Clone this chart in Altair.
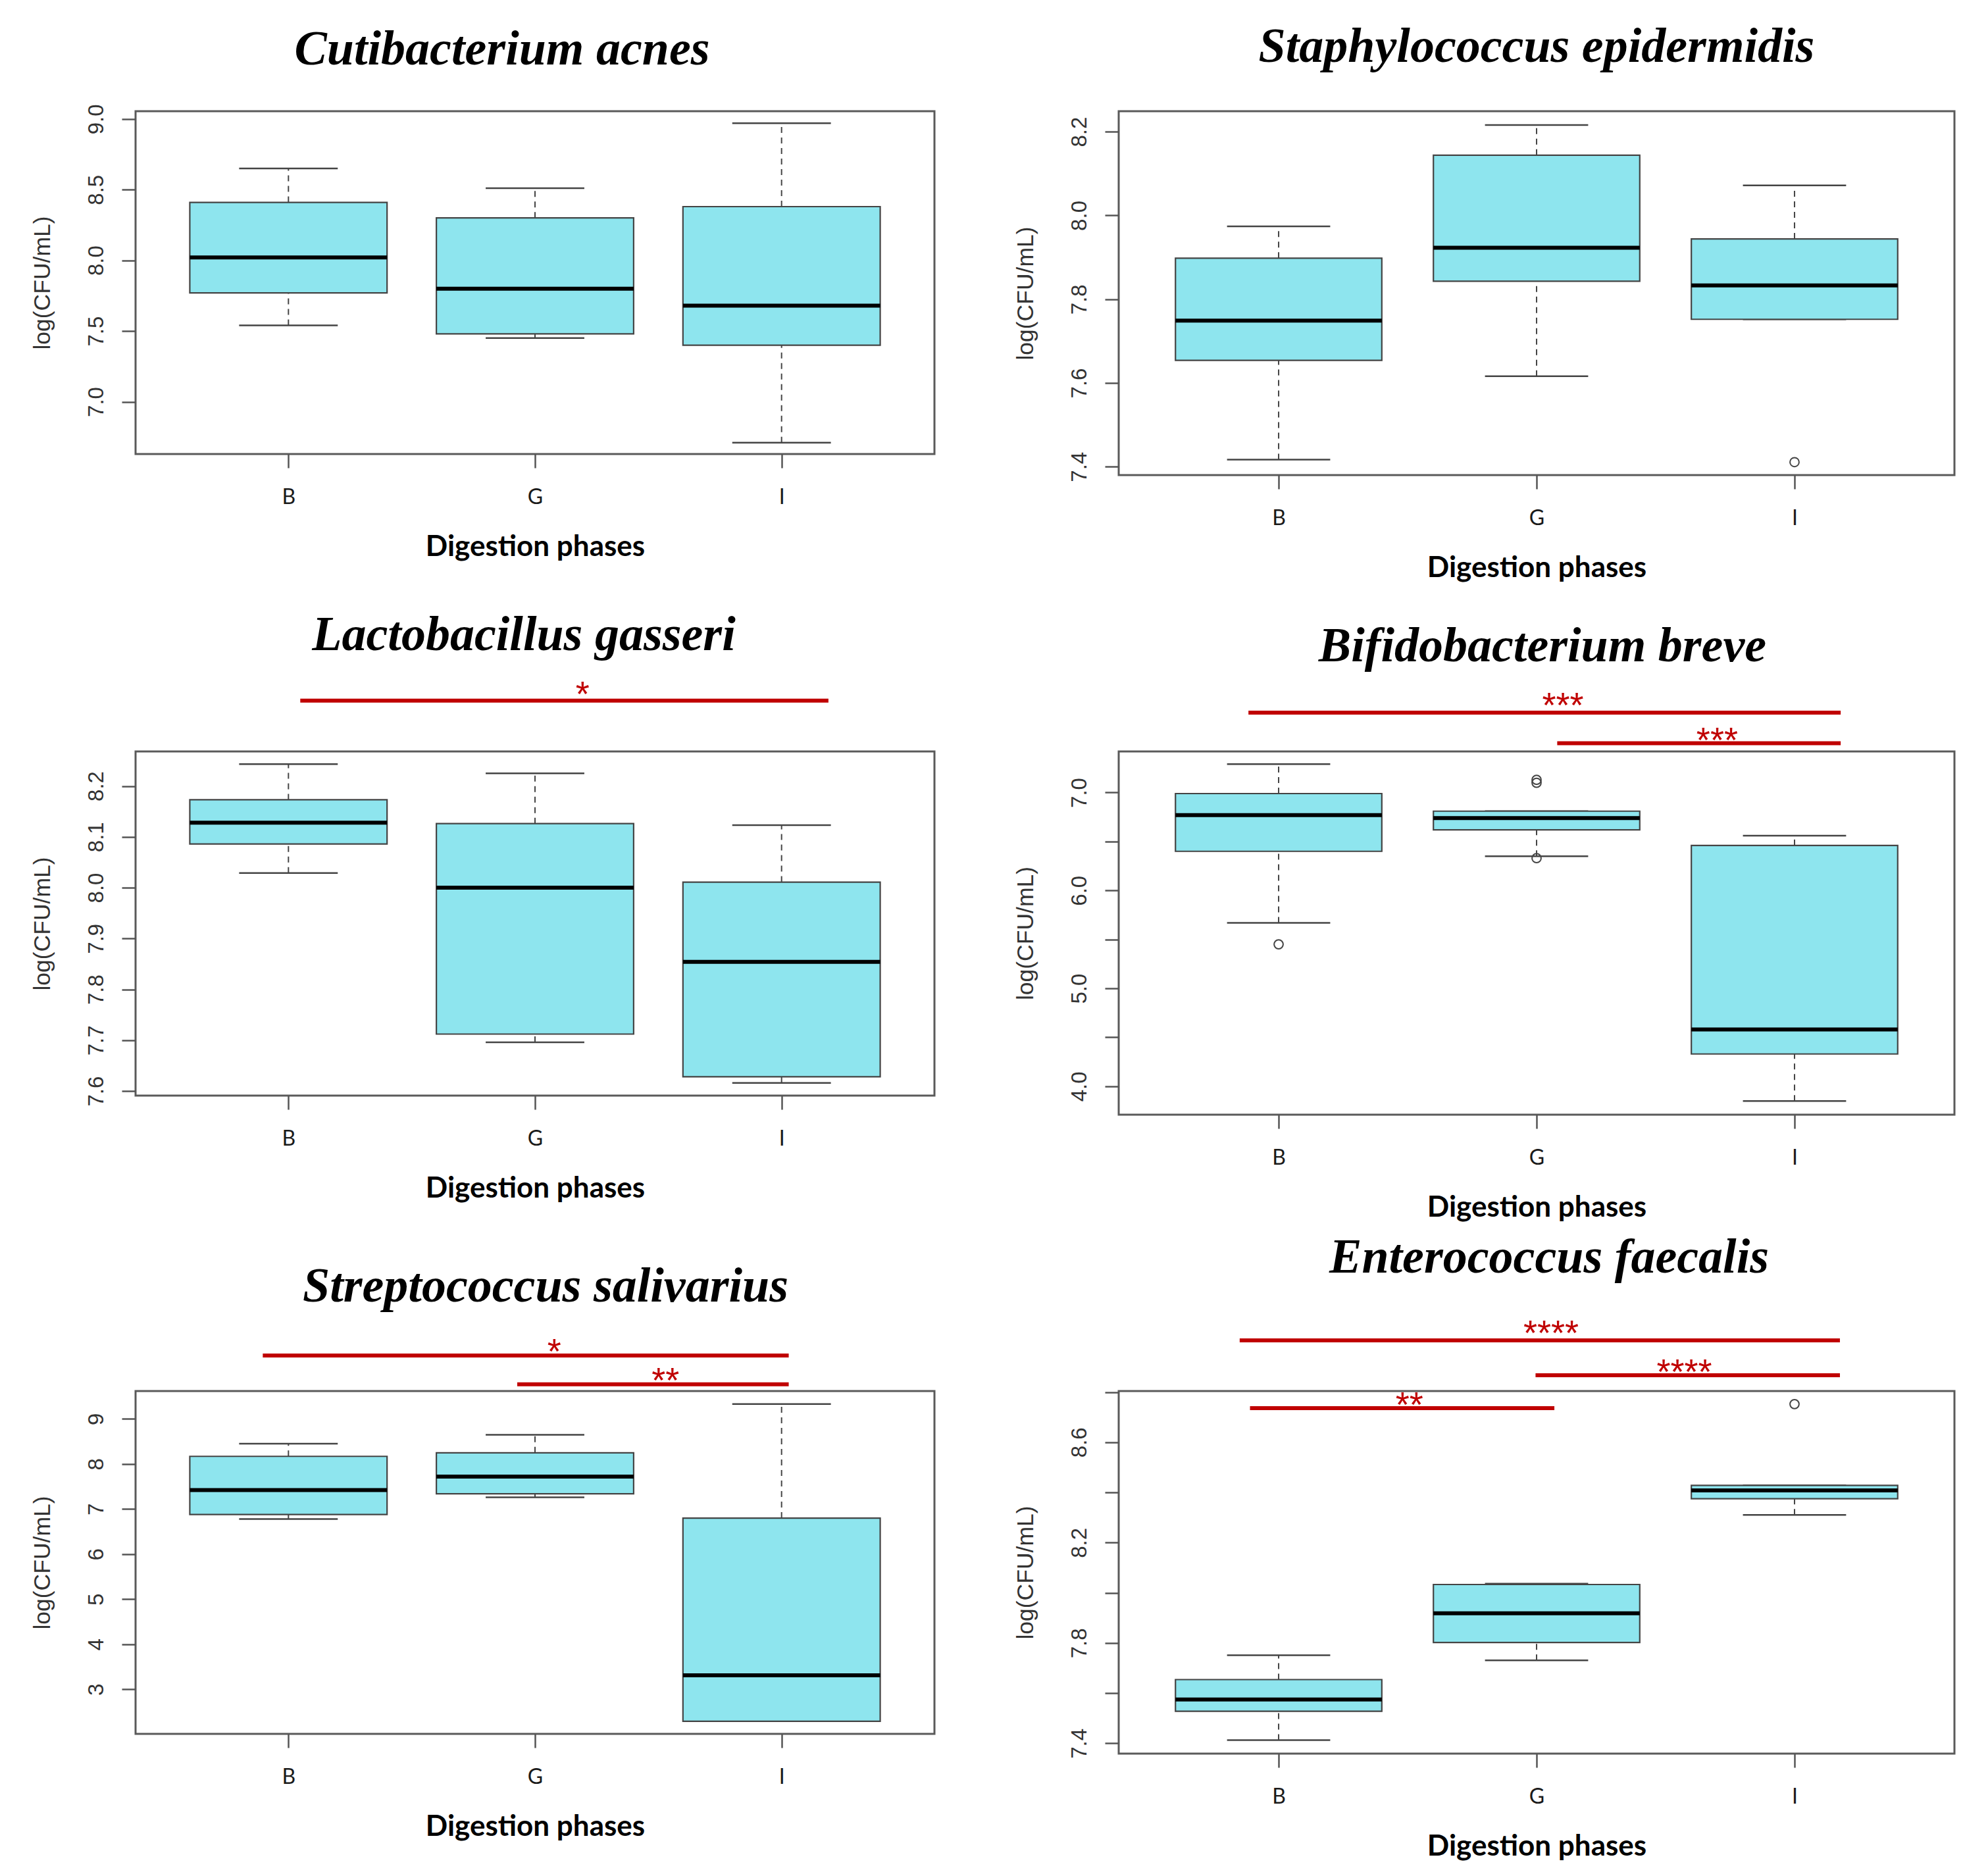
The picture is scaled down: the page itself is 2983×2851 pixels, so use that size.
import altair as alt
import pandas as pd

# ---------------- shared categories ----------------
phases = ["B", "G", "I"]
phase_pos = [1, 2, 3]
x_domain = [0.38, 3.62]

# ---------------- Cutibacterium acnes ----------------
ca_title = "Cutibacterium acnes"
ca_low = [7.54, 7.45, 6.71]
ca_q1 = [7.77, 7.48, 7.40]
ca_med = [8.02, 7.80, 7.68]
ca_q3 = [8.41, 8.30, 8.38]
ca_high = [8.65, 8.51, 8.97]
ca_out_pos = []
ca_out_val = []
ca_ticks = [7.0, 7.5, 8.0, 8.5, 9.0]
ca_tick_labels = ["7.0", "7.5", "8.0", "8.5", "9.0"]
ca_domain = [6.63, 9.055]
ca_sig_from, ca_sig_to, ca_sig_level = [], [], []
ca_star_pos, ca_star_level, ca_star_text = [], [], []

# ---------------- Staphylococcus epidermidis ----------------
se_title = "Staphylococcus epidermidis"
se_low = [7.417, 7.616, 7.752]
se_q1 = [7.654, 7.843, 7.752]
se_med = [7.749, 7.923, 7.833]
se_q3 = [7.898, 8.144, 7.944]
se_high = [7.974, 8.216, 8.072]
se_out_pos = [3]
se_out_val = [7.411]
se_ticks = [7.4, 7.6, 7.8, 8.0, 8.2]
se_tick_labels = ["7.4", "7.6", "7.8", "8.0", "8.2"]
se_domain = [7.38, 8.249]
se_sig_from, se_sig_to, se_sig_level = [], [], []
se_star_pos, se_star_level, se_star_text = [], [], []

# ---------------- Lactobacillus gasseri ----------------
lg_title = "Lactobacillus gasseri"
lg_low = [8.029, 7.696, 7.616]
lg_q1 = [8.086, 7.712, 7.628]
lg_med = [8.128, 8.000, 7.854]
lg_q3 = [8.173, 8.126, 8.011]
lg_high = [8.243, 8.225, 8.123]
lg_out_pos = []
lg_out_val = []
lg_ticks = [7.6, 7.7, 7.8, 7.9, 8.0, 8.1, 8.2]
lg_tick_labels = ["7.6", "7.7", "7.8", "7.9", "8.0", "8.1", "8.2"]
lg_domain = [7.591, 8.268]
lg_sig_from = [1.048]
lg_sig_to = [3.19]
lg_sig_level = [8.368]
lg_star_pos = [2.193]
lg_star_level = [8.397]
lg_star_text = ["*"]

# ---------------- Bifidobacterium breve ----------------
bb_title = "Bifidobacterium breve"
bb_low = [5.67, 6.35, 3.85]
bb_q1 = [6.40, 6.62, 4.33]
bb_med = [6.77, 6.74, 4.58]
bb_q3 = [6.99, 6.81, 6.46]
bb_high = [7.29, 6.81, 6.56]
bb_out_pos = [1, 2, 2, 2]
bb_out_val = [5.45, 7.13, 7.10, 6.33]
bb_ticks = [4.0, 4.5, 5.0, 5.5, 6.0, 6.5, 7.0]
bb_tick_labels = ["4.0", "", "5.0", "", "6.0", "", "7.0"]
bb_domain = [3.71, 7.42]
bb_sig_from = [0.883, 2.080]
bb_sig_to = [3.179, 3.179]
bb_sig_level = [7.816, 7.504]
bb_star_pos = [2.102, 2.70]
bb_star_level = [7.975, 7.624]
bb_star_text = ["***", "***"]

# ---------------- Streptococcus salivarius ----------------
ss_title = "Streptococcus salivarius"
ss_low = [6.78, 7.26, 2.29]
ss_q1 = [6.88, 7.34, 2.29]
ss_med = [7.42, 7.72, 3.31]
ss_q3 = [8.17, 8.25, 6.80]
ss_high = [8.45, 8.65, 9.33]
ss_out_pos = []
ss_out_val = []
ss_ticks = [3, 4, 5, 6, 7, 8, 9]
ss_tick_labels = ["3", "4", "5", "6", "7", "8", "9"]
ss_domain = [2.01, 9.62]
ss_sig_from = [0.896, 1.928]
ss_sig_to = [3.029, 3.029]
ss_sig_level = [10.41, 9.77]
ss_star_pos = [2.078, 2.529]
ss_star_level = [10.69, 10.05]
ss_star_text = ["*", "**"]

# ---------------- Enterococcus faecalis ----------------
ef_title = "Enterococcus faecalis"
ef_low = [7.413, 7.731, 8.310]
ef_q1 = [7.528, 7.802, 8.375]
ef_med = [7.575, 7.918, 8.408]
ef_q3 = [7.654, 8.033, 8.428]
ef_high = [7.751, 8.036, 8.428]
ef_out_pos = [3]
ef_out_val = [8.752]
ef_ticks = [7.4, 7.6, 7.8, 8.0, 8.2, 8.4, 8.6, 8.8]
ef_tick_labels = ["7.4", "", "7.8", "", "8.2", "", "8.6", ""]
ef_domain = [7.359, 8.804]
ef_sig_from = [0.849, 1.996, 0.889]
ef_sig_to = [3.176, 3.176, 2.069]
ef_sig_level = [9.006, 8.867, 8.736]
ef_star_pos = [2.056, 2.573, 1.507]
ef_star_level = [9.068, 8.914, 8.783]
ef_star_text = ["****", "****", "**"]

# ---------------- styles ----------------
BOX_HALF = 0.4
CAP_HALF = 0.2
BOX_FILL = "#8EE5EE"
LINE = "#444444"
RED = "#C00000"
FRAME = "#5a5a5a"


def label_expr(values, labels):
    parts = [f"abs(datum.value - ({v})) < 1e-6 ? '{l}'" for v, l in zip(values, labels)]
    return " : ".join(parts) + " : ''"


x_label_expr = label_expr(phase_pos, phases)


def make_panel(title, low, q1, med, q3, high, out_pos, out_val, ticks, tick_labels, domain,
               sig_from, sig_to, sig_level, star_pos, star_level, star_text,
               width, height, title_dx, title_offset):
    xs = alt.Scale(domain=x_domain, nice=False, zero=False)
    ys = alt.Scale(domain=domain, nice=False, zero=False)
    xa = alt.Axis(values=phase_pos, labelExpr=x_label_expr, labelAngle=0,
                  labelFont="Lato", labelFontSize=32, labelColor="#1a1a1a",
                  labelPadding=29, labelBaseline="top", labelFlush=False,
                  tickSize=21, tickWidth=2.5, tickColor="#555555",
                  domain=False, grid=False,
                  title="Digestion phases", titleFont="Lato", titleFontSize=44,
                  titleFontWeight="bold", titleColor="#000000", titlePadding=38)
    ya = alt.Axis(values=ticks, labelExpr=label_expr(ticks, tick_labels),
                  labelAngle=270, labelAlign="center", labelBaseline="bottom",
                  labelFont="Liberation Sans", labelFontSize=33, labelColor="#333333",
                  labelPadding=22, labelOverlap=False, labelFlush=False,
                  tickSize=21, tickWidth=2.5, tickColor="#555555",
                  domain=False, grid=False,
                  title="log(CFU/mL)", titleFont="Liberation Sans", titleFontSize=35.5,
                  titleFontWeight="normal", titleColor="#333333", titlePadding=48)

    def X(f):
        return alt.X(f, type="quantitative", scale=xs, axis=xa)

    def Y(f):
        return alt.Y(f, type="quantitative", scale=ys, axis=ya)

    df = pd.DataFrame(dict(cat=phase_pos, low=low, q1=q1, med=med, q3=q3, high=high))
    base = alt.Chart(df).transform_calculate(
        xl=f"datum.cat - {BOX_HALF}", xr=f"datum.cat + {BOX_HALF}",
        cl=f"datum.cat - {CAP_HALF}", cr=f"datum.cat + {CAP_HALF}")

    layers = [
        base.mark_rule(color=LINE, strokeWidth=2, strokeDash=[9, 7]).encode(
            x=X("cat"), y=Y("low"), y2=alt.Y2("q1")),
        base.mark_rule(color=LINE, strokeWidth=2, strokeDash=[9, 7]).encode(
            x=X("cat"), y=Y("q3"), y2=alt.Y2("high")),
        base.mark_rule(color=LINE, strokeWidth=2.5).encode(
            x=X("cl"), x2=alt.X2("cr"), y=Y("low")),
        base.mark_rule(color=LINE, strokeWidth=2.5).encode(
            x=X("cl"), x2=alt.X2("cr"), y=Y("high")),
        base.mark_rect(fill=BOX_FILL, stroke=LINE, strokeWidth=2.2).encode(
            x=X("xl"), x2=alt.X2("xr"), y=Y("q1"), y2=alt.Y2("q3")),
        base.mark_rule(color="#000000", strokeWidth=6).encode(
            x=X("xl"), x2=alt.X2("xr"), y=Y("med")),
    ]
    if out_pos:
        odf = pd.DataFrame({"cat": out_pos, "val": out_val})
        layers.append(alt.Chart(odf).mark_point(shape="circle", filled=False, size=190,
                                                color=LINE, strokeWidth=2, opacity=1).encode(
            x=X("cat"), y=Y("val")))
    if sig_from:
        sdf = pd.DataFrame({"x1": sig_from, "x2": sig_to, "lvl": sig_level})
        layers.append(alt.Chart(sdf).mark_rule(color=RED, strokeWidth=6).encode(
            x=X("x1"), x2=alt.X2("x2"), y=Y("lvl")))
        tdf = pd.DataFrame({"pos": star_pos, "lvl": star_level, "txt": star_text})
        layers.append(alt.Chart(tdf).mark_text(color=RED, font="Liberation Sans", fontSize=54,
                                               baseline="middle", align="center", dy=15).encode(
            x=X("pos"), y=Y("lvl"), text=alt.Text("txt:N")))

    return alt.layer(*layers).properties(
        width=width, height=height,
        title=alt.TitleParams(text=title, font="Liberation Serif", fontSize=74,
                              fontStyle="italic", fontWeight="bold", color="#000000",
                              anchor="middle", frame="group", baseline="alphabetic",
                              dx=title_dx, offset=title_offset))


W1, W2 = 1214, 1270

p1 = make_panel(ca_title, ca_low, ca_q1, ca_med, ca_q3, ca_high, ca_out_pos, ca_out_val,
                ca_ticks, ca_tick_labels, ca_domain, ca_sig_from, ca_sig_to, ca_sig_level,
                ca_star_pos, ca_star_level, ca_star_text, W1, 521, -50, -14)
p2 = make_panel(se_title, se_low, se_q1, se_med, se_q3, se_high, se_out_pos, se_out_val,
                se_ticks, se_tick_labels, se_domain, se_sig_from, se_sig_to, se_sig_level,
                se_star_pos, se_star_level, se_star_text, W2, 553, 0, 1)
p3 = make_panel(lg_title, lg_low, lg_q1, lg_med, lg_q3, lg_high, lg_out_pos, lg_out_val,
                lg_ticks, lg_tick_labels, lg_domain, lg_sig_from, lg_sig_to, lg_sig_level,
                lg_star_pos, lg_star_level, lg_star_text, W1, 523, -17, -32)
p4 = make_panel(bb_title, bb_low, bb_q1, bb_med, bb_q3, bb_high, bb_out_pos, bb_out_val,
                bb_ticks, bb_tick_labels, bb_domain, bb_sig_from, bb_sig_to, bb_sig_level,
                bb_star_pos, bb_star_level, bb_star_text, W2, 552, 9, -32)
p5 = make_panel(ss_title, ss_low, ss_q1, ss_med, ss_q3, ss_high, ss_out_pos, ss_out_val,
                ss_ticks, ss_tick_labels, ss_domain, ss_sig_from, ss_sig_to, ss_sig_level,
                ss_star_pos, ss_star_level, ss_star_text, W1, 521, 16, -23)
p6 = make_panel(ef_title, ef_low, ef_q1, ef_med, ef_q3, ef_high, ef_out_pos, ef_out_val,
                ef_ticks, ef_tick_labels, ef_domain, ef_sig_from, ef_sig_to, ef_sig_level,
                ef_star_pos, ef_star_level, ef_star_text, W2, 551, 19, -7)

chart = alt.concat(p1, p2, p3, p4, p5, p6, columns=2, bounds="flush",
                   spacing={"row": 420, "column": 280}).properties(
    padding={"left": 37, "top": 25, "right": 0, "bottom": 0},
    background="white",
).configure_view(stroke=FRAME, strokeWidth=3)

chart.save("out.html", embed_options={"renderer": "svg", "actions": False})
